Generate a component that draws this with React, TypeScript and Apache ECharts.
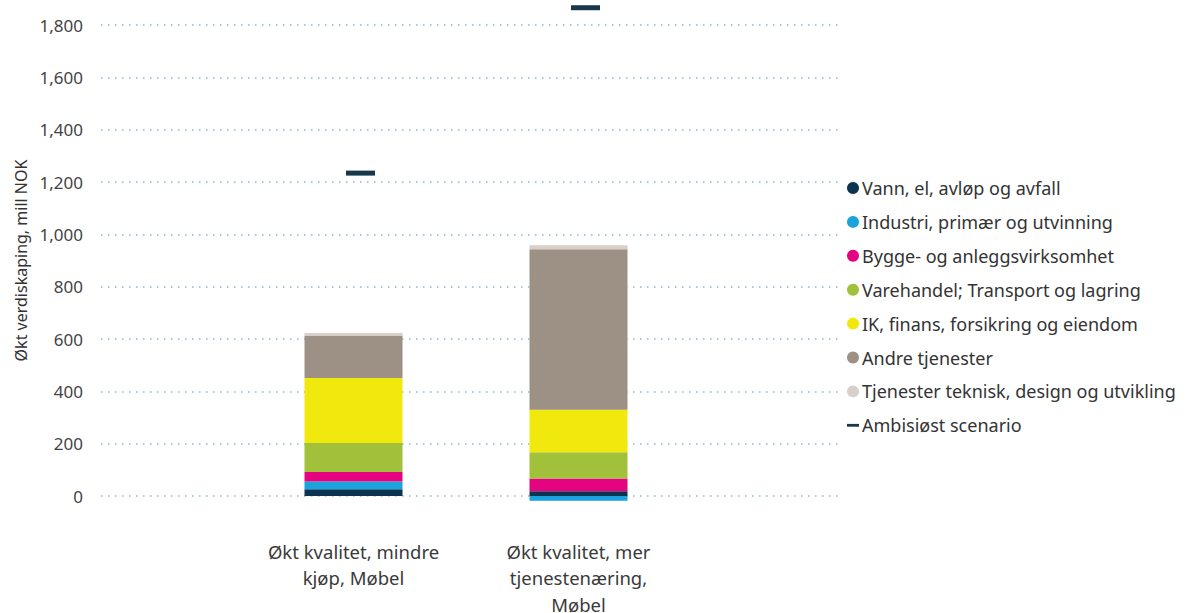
import React, { useEffect, useRef } from "react";
import * as echarts from "echarts";

const categories = [
  "Økt kvalitet, mindre\nkjøp, Møbel",
  "Økt kvalitet, mer\ntjenestenæring,\nMøbel",
];

const seriesNames = [
  "Vann, el, avløp og avfall",
  "Industri, primær og utvinning",
  "Bygge- og anleggsvirksomhet",
  "Varehandel; Transport og lagring",
  "IK, finans, forsikring og eiendom",
  "Andre tjenester",
  "Tjenester teknisk, design og utvikling",
];

const vann = [26, 18];
const industri = [29, -18];
const bygge = [37, 49];
const varehandel = [111, 100];
const ik = [248, 163];
const andre = [162, 613];
const teknisk = [10, 15];
const ambisiost = [1234, 1866];

const seriesValues = [vann, industri, bygge, varehandel, ik, andre, teknisk];
const colors = ["#0c3350", "#1aa3dd", "#e5047f", "#a1c13b", "#f1e80e", "#9d9185", "#d9d0c9"];
const markerName = "Ambisiøst scenario";
const markerColor = "#17384c";

const yTicks = { min: 0, max: 1800, interval: 200 };
const barAxisMin = -100;

const FONT = "'Noto Sans', 'Open Sans', sans-serif";

export default function App() {
  const ref = useRef<HTMLDivElement>(null);
  useEffect(() => {
    if (!ref.current) return;
    const chart = echarts.init(ref.current, undefined, { renderer: "svg" });
    const H = 613;
    const top = 25;
    const bottom = 117;
    const pxPerUnit = (H - top - bottom) / (yTicks.max - yTicks.min);
    const barBottom = bottom + (barAxisMin - yTicks.min) * pxPerUnit;
    const barSeries = seriesNames.map((name, i) => ({
      name,
      type: "bar",
      stack: "total",
      xAxisIndex: 1,
      yAxisIndex: 1,
      barWidth: 98,
      clip: false,
      itemStyle: { color: colors[i] },
      data: seriesValues[i],
    }));
    chart.setOption({
      animation: false,
      textStyle: { fontFamily: FONT },
      grid: [
        { left: 101, right: 350, top, bottom, outerBoundsMode: "none", containLabel: false },
        { left: 241, right: 497, top, bottom: barBottom, outerBoundsMode: "none", containLabel: false },
      ],
      xAxis: [
        { type: "value", gridIndex: 0, show: false, min: 0, max: 1 },
        {
          type: "category",
          gridIndex: 1,
          data: categories,
          axisLine: { show: false },
          axisTick: { show: false },
          axisLabel: {
            color: "#3a3a3a",
            fontSize: 18.5,
            lineHeight: 26.5,
            margin: 42 - (bottom - barBottom),
            fontFamily: FONT,
          },
        },
      ],
      yAxis: [
        {
          type: "value",
          gridIndex: 0,
          min: yTicks.min,
          max: yTicks.max,
          interval: yTicks.interval,
          name: "Økt verdiskaping, mill NOK",
          nameLocation: "middle",
          nameGap: 63,
          nameTextStyle: { color: "#333", fontSize: 16, fontFamily: FONT },
          axisLine: { show: false },
          axisTick: { show: false },
          axisLabel: {
            color: "#444",
            fontSize: 17,
            margin: 18,
            fontFamily: FONT,
            formatter: (v: number) => v.toLocaleString("en-US"),
          },
          splitLine: {
            lineStyle: { color: "#8fb6cc", type: [1.5, 5.5], width: 1.5 },
          },
        },
        {
          type: "value",
          gridIndex: 1,
          min: barAxisMin,
          max: yTicks.max,
          show: false,
          splitLine: { show: false },
        },
      ],
      legend: {
        orient: "vertical",
        left: 847,
        top: 178,
        padding: 0,
        itemWidth: 12,
        itemHeight: 12,
        itemGap: 13.9,
        textStyle: { color: "#333", fontSize: 18, lineHeight: 20, fontFamily: FONT, padding: [0, 0, 0, -2] },
        data: [
          ...seriesNames.map((n) => ({ name: n, icon: "circle" })),
          { name: markerName, icon: "path://M0,0 L0,0 M0,4.6 L12,4.6 L12,7.4 L0,7.4 Z M12,12 L12,12", itemStyle: { opacity: 1 } },
        ],
      },
      series: [
        ...barSeries,
        {
          name: markerName,
          type: "scatter",
          xAxisIndex: 1,
          yAxisIndex: 1,
          symbol: "rect",
          symbolSize: [29, 5],
          symbolOffset: [7, 0],
          clip: false,
          itemStyle: { color: markerColor, opacity: 1 },
          data: ambisiost,
          z: 5,
        },
      ],
    });
    return () => chart.dispose();
  }, []);
  return (
    <div
      ref={ref}
      style={{ position: "fixed", left: 0, top: 0, width: 1188, height: 613, background: "#fff" }}
    />
  );
}
